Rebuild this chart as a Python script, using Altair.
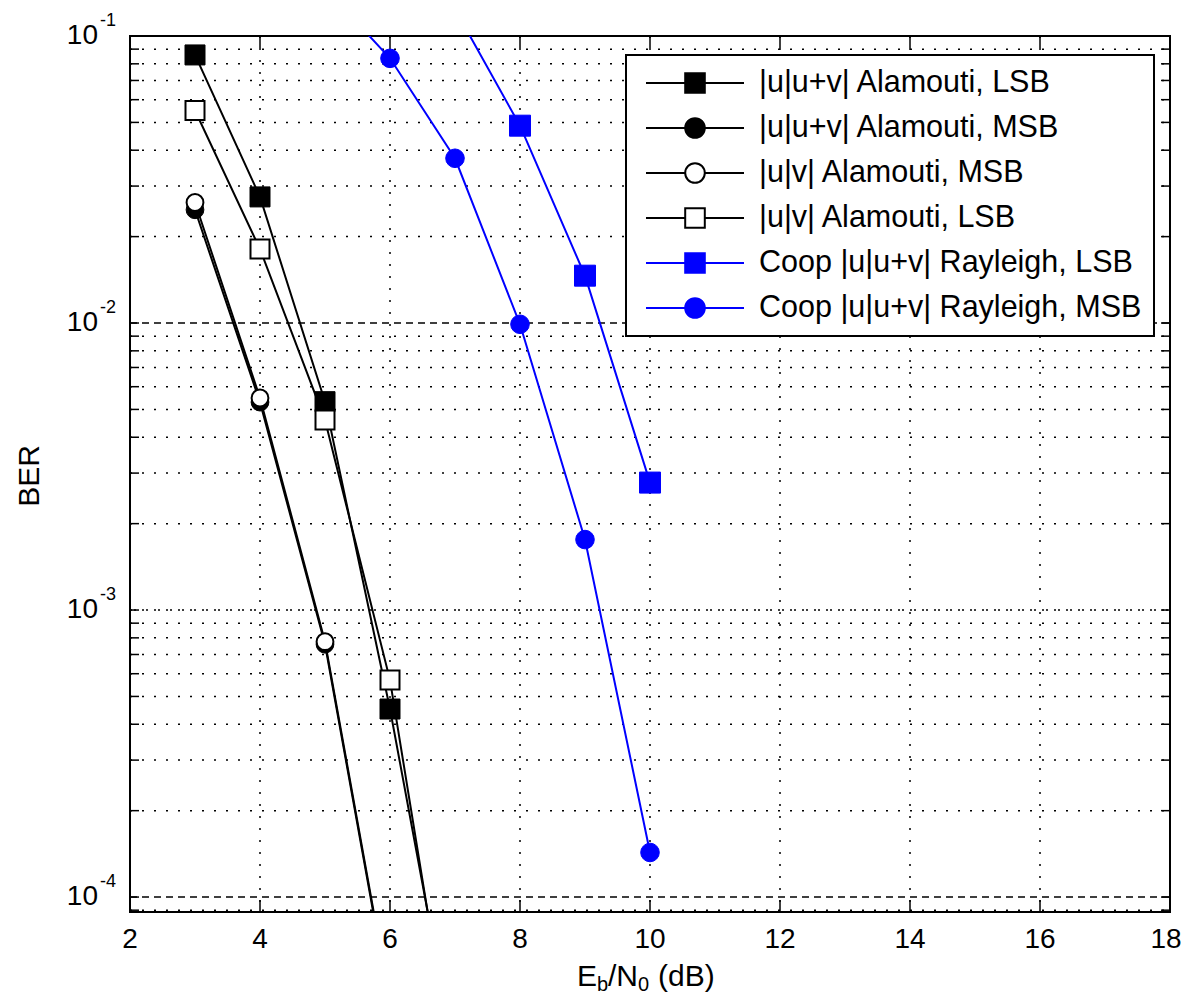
import altair as alt
import pandas as pd

# ---------------- axis values ----------------
x_ticks = [2, 4, 6, 8, 10, 12, 14, 16, 18]
x_tick_labels = [str(v) for v in x_ticks]
x_grid = [4, 6, 8, 10, 12, 14, 16]
y_decades = [1e-4, 1e-3, 1e-2, 1e-1]
y_mantissa = ["10", "10", "10", "10"]
y_exponents = ["-4", "-3", "-2", "-1"]
y_dashed = [1e-4, 1e-2]
y_double = [1e-3]
y_minor = [9e-5] + [m * 10.0 ** k for k in (-4, -3, -2) for m in range(2, 10)]
x_domain = [2, 18]
y_domain = [8.87e-5, 0.1]

# ---------------- series ----------------
names = [
    "|u|u+v| Alamouti, LSB",
    "|u|u+v| Alamouti, MSB",
    "|u|v| Alamouti, MSB",
    "|u|v| Alamouti, LSB",
    "Coop |u|u+v| Rayleigh, LSB",
    "Coop |u|u+v| Rayleigh, MSB",
]
snr_uuv_lsb = [3, 4, 5, 6, 7]
ber_uuv_lsb = [0.0859, 0.0275, 0.00532, 4.52e-4, 2.73e-5]
snr_uuv_msb = [3, 4, 5, 6]
ber_uuv_msb = [0.0248, 0.0053, 7.6e-4, 4.2e-5]
snr_uv_msb = [3, 4, 5, 6]
ber_uv_msb = [0.0263, 0.00548, 7.76e-4, 4.3e-5]
snr_uv_lsb = [3, 4, 5, 6, 7]
ber_uv_lsb = [0.0550, 0.0181, 0.00459, 5.7e-4, 2.3e-5]
snr_coop_lsb = [7, 8, 9, 10]
ber_coop_lsb = [0.124, 0.0487, 0.01462, 0.00278]
snr_coop_msb = [5, 6, 7, 8, 9, 10]
ber_coop_msb = [0.147, 0.0836, 0.0375, 0.0099, 0.00176, 1.43e-4]

series_x = [snr_uuv_lsb, snr_uuv_msb, snr_uv_msb, snr_uv_lsb, snr_coop_lsb, snr_coop_msb]
series_y = [ber_uuv_lsb, ber_uuv_msb, ber_uv_msb, ber_uv_lsb, ber_coop_lsb, ber_coop_msb]

# ---------------- styles ----------------
BLACK, BLUE, WHITE = "#000000", "#0000ff", "#ffffff"
line_colors = [BLACK, BLACK, BLACK, BLACK, BLUE, BLUE]
marker_shapes = ["square", "circle", "circle", "square", "square", "circle"]
marker_fills = [BLACK, BLACK, WHITE, WHITE, BLUE, BLUE]
marker_sizes = [400, 314, 283, 361, 441, 346]
marker_strokes = [1, 1, 2, 2, 1, 1]
FONT = "Liberation Sans"
W, H = 1040, 876

r = 0.2
SQ_PATH = f"M-1,0H-{r}M{r},0H1M-{r},-{r}H{r}V{r}H-{r}Z"
CI_PATH = f"M-1,0H-{r}M{r},0H1M{r},0A{r},{r},0,1,1,-{r},0A{r},{r},0,1,1,{r},0Z"
legend_paths = [SQ_PATH if s == "square" else CI_PATH for s in marker_shapes]

rows = []
for n, xs, ys in zip(names, series_x, series_y):
    for a, b in zip(xs, ys):
        rows.append({"series": n, "snr": a, "ber": b})
df = pd.DataFrame(rows)

xscale = alt.Scale(domain=x_domain, nice=False, zero=False)
yscale = alt.Scale(type="log", domain=y_domain, nice=False)

# ---------------- grid ----------------
def hrules(vals, dash):
    return alt.Chart(pd.DataFrame({"v": vals})).mark_rule(
        color=BLACK, strokeWidth=1.5, strokeDash=dash
    ).encode(y=alt.Y("v:Q", scale=yscale, axis=None), x=alt.value(0), x2=alt.value(W))

grid_minor = hrules(y_minor, [2, 10])
grid_dashed = hrules(y_dashed, [7, 5])
grid_double = hrules(y_double, [2, 2, 2, 6])
grid_x = alt.Chart(pd.DataFrame({"v": x_grid})).mark_rule(
    color=BLACK, strokeWidth=1.5, strokeDash=[2, 10]
).encode(x=alt.X("v:Q", scale=xscale, axis=None), y=alt.value(0), y2=alt.value(H))

# ---------------- inner ticks ----------------
y_all = y_minor + y_decades
tick_l = alt.Chart(pd.DataFrame({"v": y_all})).mark_rule(color=BLACK, strokeWidth=1.5).encode(
    y=alt.Y("v:Q", scale=yscale, axis=None), x=alt.value(0), x2=alt.value(9))
tick_r = alt.Chart(pd.DataFrame({"v": y_all})).mark_rule(color=BLACK, strokeWidth=1.5).encode(
    y=alt.Y("v:Q", scale=yscale, axis=None), x=alt.value(W - 9), x2=alt.value(W))
tick_b = alt.Chart(pd.DataFrame({"v": x_ticks})).mark_rule(color=BLACK, strokeWidth=1.5).encode(
    x=alt.X("v:Q", scale=xscale, axis=None), y=alt.value(H - 12), y2=alt.value(H))
tick_t = alt.Chart(pd.DataFrame({"v": x_ticks})).mark_rule(color=BLACK, strokeWidth=1.5).encode(
    x=alt.X("v:Q", scale=xscale, axis=None), y=alt.value(0), y2=alt.value(12))

# ---------------- tick labels (positioned through the scales) ----------------
def x_label_layer(vals, labels, dx):
    return alt.Chart(pd.DataFrame({"v": vals, "t": labels})).mark_text(
        font=FONT, fontSize=28, color=BLACK, align="center", baseline="top", dx=dx
    ).encode(x=alt.X("v:Q", scale=xscale, axis=None), y=alt.value(H + 14), text="t:N")

x_labels = x_label_layer(x_ticks[:-1], x_tick_labels[:-1], 0)
x_labels_last = x_label_layer(x_ticks[-1:], x_tick_labels[-1:], -4)

y_labels = alt.Chart(pd.DataFrame({"v": y_decades, "t": y_mantissa})).mark_text(
    font=FONT, fontSize=28, color=BLACK, align="right", baseline="middle"
).encode(y=alt.Y("v:Q", scale=yscale, axis=None), x=alt.value(-32), text="t:N")

exp_layer = alt.Chart(pd.DataFrame({"v": y_decades, "e": y_exponents})).mark_text(
    font=FONT, fontSize=18, color=BLACK, align="left", baseline="middle", dy=-15
).encode(y=alt.Y("v:Q", scale=yscale, axis=None), x=alt.value(-30), text="e:N")

y_title = alt.Chart(pd.DataFrame({"t": ["BER"]})).mark_text(
    font=FONT, fontSize=30, color=BLACK, align="center", baseline="middle", angle=270
).encode(x=alt.value(-100), y=alt.value(440), text="t:N")

# x title with subscripts: E_b/N_0 (dB)
title_text = ["E", "b", "/N", "0", "(dB)"]
title_px = [447, 467, 478, 508, 528]
title_py = [950, 955, 950, 955, 950]
title_fs = [30, 20, 30, 20, 30]
title_layers = [
    alt.Chart(pd.DataFrame({"t": [t]})).mark_text(
        font=FONT, fontSize=fs, color=BLACK, align="left", baseline="alphabetic"
    ).encode(x=alt.value(px), y=alt.value(py), text="t:N")
    for t, px, py, fs in zip(title_text, title_px, title_py, title_fs)
]

# ---------------- series ----------------
series_layers = []
for i, n in enumerate(names):
    sub = df[df.series == n]
    base = alt.Chart(sub).encode(
        x=alt.X("snr:Q", scale=xscale, axis=None),
        y=alt.Y("ber:Q", scale=yscale, axis=None))
    series_layers.append(base.mark_line(color=line_colors[i], strokeWidth=2, clip=True))
    series_layers.append(base.mark_point(
        shape=marker_shapes[i], filled=True, fill=marker_fills[i], stroke=line_colors[i],
        strokeWidth=marker_strokes[i], size=marker_sizes[i], opacity=1, clip=True))

# ---------------- legend ----------------
leg = alt.Legend(
    orient="none", legendX=496, legendY=19, title=None,
    fillColor=WHITE, strokeColor=BLACK, padding=12, rowPadding=13, clipHeight=32,
    labelFont=FONT, labelFontSize=30.5, labelColor=BLACK, labelLimit=1000, labelOffset=14,
    symbolSize=9604, symbolStrokeWidth=2, symbolOffset=7,
    symbolFillColor=WHITE, symbolStrokeColor=BLACK, symbolOpacity=1)
legend_layer = alt.Chart(df).transform_filter("false").mark_point(
    filled=True, size=9604, strokeWidth=2, opacity=1
).encode(
    x=alt.X("snr:Q", scale=xscale, axis=None),
    y=alt.Y("ber:Q", scale=yscale, axis=None),
    shape=alt.Shape("series:N", scale=alt.Scale(domain=names, range=legend_paths), legend=leg),
    fill=alt.Fill("series:N", scale=alt.Scale(domain=names, range=marker_fills), legend=leg),
    stroke=alt.Stroke("series:N", scale=alt.Scale(domain=names, range=line_colors), legend=leg),
)

chart = alt.layer(
    grid_minor, grid_dashed, grid_double, grid_x,
    tick_l, tick_r, tick_b, tick_t,
    x_labels, x_labels_last, y_labels, exp_layer, y_title, *title_layers,
    *series_layers, legend_layer,
).properties(
    width=W, height=H,
    autosize=alt.AutoSizeParams(type="none"),
    padding={"left": 122, "top": 28, "right": 12, "bottom": 85},
    background="white",
).configure_view(stroke=BLACK, strokeWidth=2).configure_legend(strokeWidth=2)

chart.save("out.html", embed_options={"renderer": "svg", "actions": False})
